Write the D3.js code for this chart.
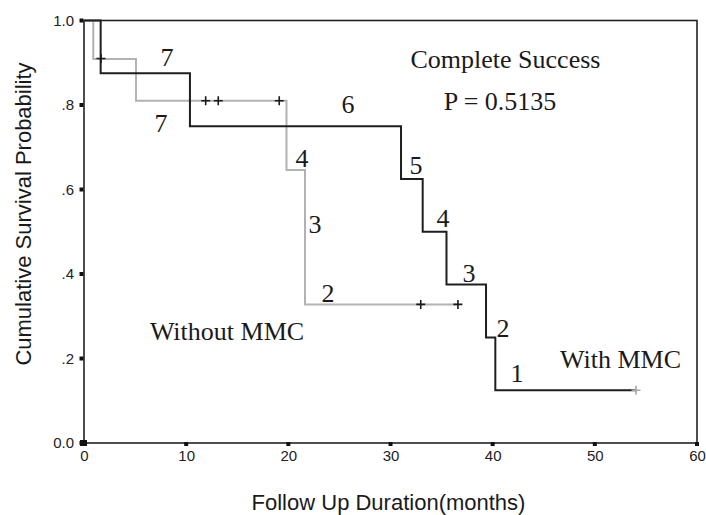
<!DOCTYPE html>
<html>
<head>
<meta charset="utf-8">
<script src="https://cdn.jsdelivr.net/npm/d3@7"></script>
<style>
  body { margin: 0; background: #fff; }
  svg { display: block; }
</style>
</head>
<body>
<div id="chart"></div>
<script>
// Kaplan-Meier steps (months, survival)
const withTimes = [0, 1.63, 10.37, 31.03, 33.15, 35.48, 39.35, 40.26];
const withSurv  = [1, 0.875, 0.75, 0.625, 0.5, 0.375, 0.25, 0.125];
const withEnd = 54.03;
const withCensorT = [1.66, 54.03];
const withCensorS = [0.91, 0.125];

const withoutTimes = [0, 0.91, 5.09, 19.82, 21.63];
const withoutSurv  = [1, 0.909, 0.81, 0.646, 0.328];
const withoutEnd = 36.6;
const withoutCensorT = [11.91, 13.14, 19.11, 32.96, 36.6];
const withoutCensorS = [0.81, 0.81, 0.81, 0.328, 0.328];

// numbers at risk written next to the steps
const riskText = ["7", "7", "6", "4", "3", "2", "5", "4", "3", "2", "1"];
const riskT    = [8.12, 7.54, 25.84, 21.34, 22.61, 23.88, 32.5, 35.14, 37.68, 41.01, 42.38];
const riskS    = [0.892, 0.736, 0.781, 0.653, 0.497, 0.334, 0.637, 0.511, 0.381, 0.251, 0.144];

const xTicks = [0, 10, 20, 30, 40, 50, 60];
const yTicks = [0, 0.2, 0.4, 0.6, 0.8, 1.0];

const width = 706, height = 515;
const margin = {left: 84, top: 20.5, right: 9, bottom: 72};

const svg = d3.select("#chart").append("svg")
    .attr("width", width)
    .attr("height", height);

const x = d3.scaleLinear().domain([0, 60]).range([margin.left, width - margin.right]);
const y = d3.scaleLinear().domain([0, 1]).range([height - margin.bottom, margin.top]);

const sans = "'Liberation Sans', Arial, sans-serif";
const serif = "'Liberation Serif', 'Times New Roman', serif";

// frame
svg.append("rect")
    .attr("x", x(0)).attr("y", y(1))
    .attr("width", x(60) - x(0)).attr("height", y(0) - y(1))
    .attr("fill", "none")
    .attr("stroke", "#222")
    .attr("stroke-width", 1.6);

// y axis
const yAxis = svg.append("g")
    .attr("transform", `translate(${x(0)},0)`)
    .call(d3.axisLeft(y).tickValues(yTicks).tickSize(0).tickPadding(10)
        .tickFormat(d => d === 0 ? "0.0" : d === 1 ? "1.0" : d3.format(".1f")(d).replace(/^0/, "")));
yAxis.select(".domain").remove();
yAxis.selectAll("text")
    .attr("font-family", sans).attr("font-size", 15).attr("fill", "#222");

// x axis
const xAxis = svg.append("g")
    .attr("transform", `translate(0,${y(0)})`)
    .call(d3.axisBottom(x).tickValues(xTicks).tickSize(0).tickPadding(7));
xAxis.select(".domain").remove();
xAxis.selectAll("text")
    .attr("font-family", sans).attr("font-size", 15).attr("fill", "#222");

// little square tick marks, like the original
svg.selectAll(".ytick").data(yTicks).enter().append("rect")
    .attr("x", x(0) - 4.5).attr("y", d => y(d) - 2)
    .attr("width", 4).attr("height", 4).attr("fill", "#111");
svg.selectAll(".xtick").data(xTicks).enter().append("rect")
    .attr("x", d => x(d) - 2).attr("y", y(0) - 1)
    .attr("width", 4).attr("height", 4).attr("fill", "#111");
svg.append("rect")
    .attr("x", x(0) - 4).attr("y", y(0) - 3)
    .attr("width", 7).attr("height", 6).attr("fill", "#111");

// survival curves
const line = d3.line()
    .x(d => x(d[0]))
    .y(d => y(d[1]))
    .curve(d3.curveStepAfter);

function steps(times, surv, end) {
    const pts = times.map((t, i) => [t, surv[i]]);
    pts.push([end, surv[surv.length - 1]]);
    return pts;
}

svg.append("path")
    .datum(steps(withoutTimes, withoutSurv, withoutEnd))
    .attr("d", line)
    .attr("fill", "none")
    .attr("stroke", "#b2b2b2")
    .attr("stroke-width", 2);

svg.append("path")
    .datum(steps(withTimes, withSurv, withEnd))
    .attr("d", line)
    .attr("fill", "none")
    .attr("stroke", "#1e1e1e")
    .attr("stroke-width", 2);

// censor marks
function censors(ts, ss, colors) {
    ts.forEach((t, i) => {
        const cx = x(t), cy = y(ss[i]);
        svg.append("path")
            .attr("d", `M${cx - 4.5},${cy}H${cx + 4.5}M${cx},${cy - 4.5}V${cy + 4.5}`)
            .attr("stroke", colors[i])
            .attr("stroke-width", 1.6);
    });
}
censors(withoutCensorT, withoutCensorS, withoutCensorT.map(() => "#1a1a1a"));
censors(withCensorT, withCensorS, ["#1a1a1a", "#a8a8a8"]);

// at-risk numbers
svg.selectAll(".risk").data(riskText).enter().append("text")
    .attr("x", (d, i) => x(riskT[i]))
    .attr("y", (d, i) => y(riskS[i]))
    .attr("text-anchor", "middle")
    .attr("font-family", serif)
    .attr("font-size", 26)
    .attr("fill", "#1a1a1a")
    .text(d => d);

// annotations
function note(txt, cx, by) {
    svg.append("text")
        .attr("x", cx).attr("y", by)
        .attr("text-anchor", "middle")
        .attr("font-family", serif)
        .attr("font-size", 26)
        .attr("fill", "#1a1a1a")
        .text(txt);
}
note("Complete Success", 505.5, 68);
note("P = 0.5135", 500, 110);
note("With MMC", 620.5, 368);
note("Without MMC", 227, 340);

// axis titles
svg.append("text")
    .attr("x", (x(0) + x(60)) / 2 - 2)
    .attr("y", 510)
    .attr("text-anchor", "middle")
    .attr("font-family", sans)
    .attr("font-size", 22)
    .attr("fill", "#1a1a1a")
    .text("Follow Up Duration(months)");

svg.append("text")
    .attr("transform", "translate(31,214) rotate(-90)")
    .attr("text-anchor", "middle")
    .attr("font-family", sans)
    .attr("font-size", 22)
    .attr("fill", "#1a1a1a")
    .text("Cumulative Survival Probability");
</script>
</body>
</html>
